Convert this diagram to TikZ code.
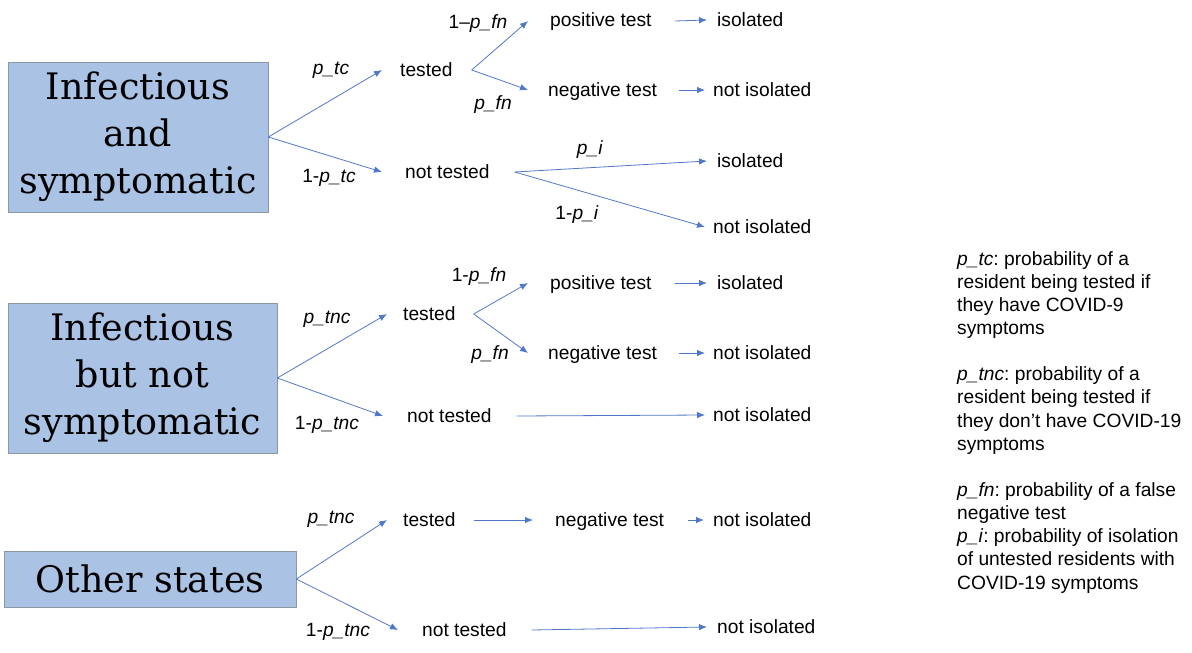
\documentclass[tikz,border=0pt]{standalone}
\usepackage{fontspec}
\setmainfont{Liberation Sans}
\newfontfamily\boxfont{DejaVu Serif}
\usetikzlibrary{arrows.meta}
\definecolor{boxfill}{RGB}{170,194,228}
\definecolor{boxline}{RGB}{140,150,165}
\definecolor{arrowblue}{RGB}{80,120,200}
\frenchspacing
\tikzset{
  bigbox/.style={draw=boxline, line width=0.6pt, fill=boxfill, inner sep=0pt, align=center,
    font=\boxfont\fontsize{36.5}{47}\selectfont},
  txt/.style={anchor=west, inner sep=0pt, text height=15pt, text depth=3pt,
    font=\fontsize{19.2}{23.14}\selectfont},
  lbl/.style={inner sep=0pt, text height=15pt, text depth=3pt,
    font=\fontsize{19.2}{23.14}\selectfont},
  arr/.style={draw=arrowblue, line width=0.8pt, -{Latex[length=8pt,width=6.5pt]}},
}
\begin{document}
\begin{tikzpicture}[x=1pt,y=-1pt]
\useasboundingbox (0,0) rectangle (1192,653);

% ---------------- boxes ----------------
\node[bigbox, minimum width=260pt, minimum height=150pt] (b1) at (138,137) {Infectious\\and\\symptomatic};
\node[bigbox, minimum width=269pt, minimum height=150pt] (b2) at (142.5,378) {Infectious\\but not\\symptomatic};
\node[bigbox, minimum width=292pt, minimum height=56pt] (b3) at (150,579) {Other states};

% ---------------- section 1 ----------------
\node[txt] (t1)   at (400,70)  {tested};
\node[txt] (nt1)  at (405,172) {not tested};
\node[txt] (pt1)  at (550,21)  {positive test};
\node[txt] (ng1)  at (548,90)  {negative test};
\node[txt] (i1a)  at (717,20)  {isolated};
\node[txt] (ni1a) at (713,90)  {not isolated};
\node[txt] (i1b)  at (717,161) {isolated};
\node[txt] (ni1b) at (713,227) {not isolated};

\node[lbl] (l1a) at (331,68)  {\textit{p\_tc}};
\node[lbl] (l1b) at (329,176) {1-\textit{p\_tc}};
\node[lbl] (l1c) at (478,22)  {1–\textit{p\_fn}};
\node[lbl] (l1d) at (493,103) {\textit{p\_fn}};
\node[lbl] (l1e) at (590,148) {\textit{p\_i}};
\node[lbl] (l1f) at (577,213) {1-\textit{p\_i}};

\draw[arr] (b1.east) -- ([xshift=-18pt]t1.west);
\draw[arr] (b1.east) -- ([xshift=-23pt]nt1.west);
\draw[arr] ([xshift=19pt]t1.east) -- ([xshift=-22pt]pt1.west);
\draw[arr] ([xshift=19pt]t1.east) -- ([xshift=-20pt]ng1.west);
\draw[arr] ([xshift=23pt]pt1.east) -- ([xshift=-10pt]i1a.west);
\draw[arr] ([xshift=22pt]ng1.east) -- ([xshift=-8pt]ni1a.west);
\draw[arr] ([xshift=25pt]nt1.east) -- ([xshift=-10pt]i1b.west);
\draw[arr] ([xshift=25pt]nt1.east) -- ([xshift=-8pt]ni1b.west);

% ---------------- section 2 ----------------
\node[txt] (t2)   at (403,314) {tested};
\node[txt] (nt2)  at (407,416) {not tested};
\node[txt] (pt2)  at (550,283) {positive test};
\node[txt] (ng2)  at (548,353) {negative test};
\node[txt] (i2)   at (717,283) {isolated};
\node[txt] (ni2a) at (713,353) {not isolated};
\node[txt] (ni2b) at (713,415) {not isolated};

\node[lbl] (l2a) at (327,317) {\textit{p\_tnc}};
\node[lbl] (l2b) at (327,423) {1-\textit{p\_tnc}};
\node[lbl] (l2c) at (479,275) {1-\textit{p\_fn}};
\node[lbl] (l2d) at (490,353) {\textit{p\_fn}};

\draw[arr] (b2.east) -- ([xshift=-16pt]t2.west);
\draw[arr] (b2.east) -- ([xshift=-24pt]nt2.west);
\draw[arr] ([xshift=18pt]t2.east) -- ([xshift=-22pt]pt2.west);
\draw[arr] ([xshift=18pt]t2.east) -- ([xshift=-20pt]ng2.west);
\draw[arr] ([xshift=23pt]pt2.east) -- ([xshift=-10pt]i2.west);
\draw[arr] ([xshift=22pt]ng2.east) -- ([xshift=-8pt]ni2a.west);
\draw[arr] ([xshift=25pt]nt2.east) -- ([xshift=-8pt]ni2b.west);

% ---------------- section 3 ----------------
\node[txt] (t3)   at (403,520) {tested};
\node[txt] (nt3)  at (422,630) {not tested};
\node[txt] (ng3)  at (555,520) {negative test};
\node[txt] (ni3a) at (713,520) {not isolated};
\node[txt] (ni3b) at (717,627) {not isolated};

\node[lbl] (l3a) at (331,517) {\textit{p\_tnc}};
\node[lbl] (l3b) at (338,630) {1-\textit{p\_tnc}};

\draw[arr] (b3.east) -- ([xshift=-16pt]t3.west);
\draw[arr] (b3.east) -- ([xshift=-24pt]nt3.west);
\draw[arr] ([xshift=18pt]t3.east) -- ([xshift=-22pt]ng3.west);
\draw[arr] ([xshift=24pt]ng3.east) -- ([xshift=-9pt]ni3a.west);
\draw[arr] ([xshift=25pt]nt3.east) -- ([xshift=-10pt]ni3b.west);

% ---------------- legend ----------------
\node[anchor=north west, inner sep=0pt, align=left, font=\fontsize{19.2}{23.14}\selectfont] (legend) at (957,251)
{\textit{p\_tc}: probability of a\\
resident being tested if\\
they have COVID-9\\
symptoms\\[23.14pt]
\textit{p\_tnc}: probability of a\\
resident being tested if\\
they don’t have COVID-19\\
symptoms\\[23.14pt]
\textit{p\_fn}: probability of a false\\
negative test\\
\textit{p\_i}: probability of isolation\\
of untested residents with\\
COVID-19 symptoms};
\end{tikzpicture}
\end{document}
